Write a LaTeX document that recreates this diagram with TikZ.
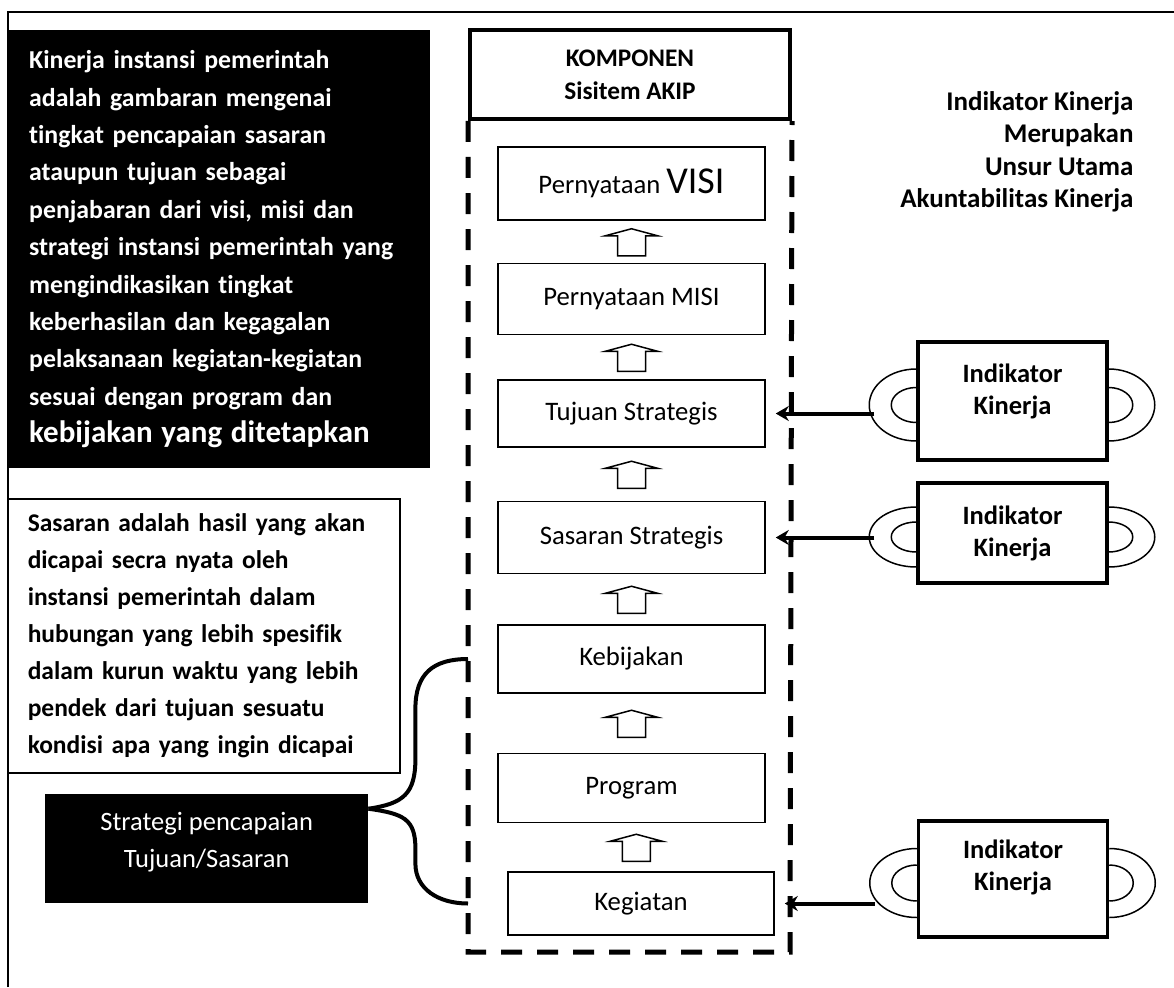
\documentclass[tikz,border=0pt]{standalone}
\usepackage{fontspec}
\setmainfont{Carlito}[Ligatures=NoCommon]
\usetikzlibrary{positioning,calc,arrows.meta}

% handles on both sides of an indikator box: #1 node, #2 outer radius, #3 inner radius
\newcommand{\ikhandles}[3]{%
  \draw[handle] ([yshift=#2pt-4pt]#1.west) arc[start angle=90, end angle=270, x radius=47pt, y radius=#2pt];
  \draw[handle] ([yshift=#3pt-4pt]#1.west) arc[start angle=90, end angle=270, x radius=25pt, y radius=#3pt];
  \draw[handle] ([yshift=#2pt-4pt]#1.east) arc[start angle=90, end angle=-90, x radius=46pt, y radius=#2pt];
  \draw[handle] ([yshift=#3pt-4pt]#1.east) arc[start angle=90, end angle=-90, x radius=24pt, y radius=#3pt];
}

\begin{document}
\begin{tikzpicture}[x=1pt, y=-1pt, node distance=42pt]
    \tikzstyle{blackbox} = [fill=black, text=white, inner ysep=0pt]
    \tikzstyle{note} = [draw, line width=1.5pt, inner ysep=0pt]
    \tikzstyle{stage} = [draw, line width=1.5pt, minimum width=267pt, font=\fontsize{26.7}{30}\selectfont]
    \tikzstyle{indik} = [draw, line width=3.5pt, minimum width=189pt, align=center, font=\bfseries\fontsize{26.5}{32}\selectfont]
    \tikzstyle{hollow} = [draw, line width=1.5pt, fill=white, line join=miter]
    \tikzstyle{feed} = [line width=4pt, -{Stealth[length=13pt, width=15pt]}]
    \tikzstyle{handle} = [line width=1.5pt]
    \tikzstyle{brace} = [line width=4pt]

    \useasboundingbox (0,0) rectangle (1174,987);
    \draw[line width=2pt] (8,987) |- (1174,12);

    % left column
    \node[blackbox, anchor=north west, minimum width=422pt, minimum height=438pt, text width=380pt, inner xsep=21pt, align=left,
          font=\bfseries\fontsize{25.8}{37.4}\selectfont] (kinerja) at (8,30)
        {Kinerja instansi pemerintah\\ adalah gambaran mengenai\\ tingkat pencapaian sasaran\\ ataupun tujuan sebagai\\
         penjabaran dari visi, misi dan\\ strategi instansi pemerintah yang\\ mengindikasikan tingkat\\
         keberhasilan dan kegagalan\\ pelaksanaan kegiatan-kegiatan\\ sesuai dengan program dan\\
         {\fontsize{31}{43}\selectfont kebijakan yang ditetapkan}};
    \node[note, anchor=north west, minimum width=392pt, minimum height=274pt, text width=352pt, inner xsep=20pt, align=left,
          font=\bfseries\fontsize{25.5}{37}\selectfont] (sasaranket) at (7,498)
        {Sasaran adalah hasil yang akan\\ dicapai secra nyata oleh\\ instansi pemerintah dalam\\ hubungan yang lebih spesifik\\
         dalam kurun waktu yang lebih\\ pendek dari tujuan sesuatu\\ kondisi apa yang ingin dicapai};
    \node[blackbox, anchor=north west, minimum width=323pt, minimum height=109pt, align=center,
          font=\fontsize{26.5}{37}\selectfont] (strategi) at (45,794) {Strategi pencapaian\\ Tujuan/Sasaran\\[-30pt]\strut};

    % komponen column
    \node[draw, line width=4pt, anchor=north west, minimum width=320pt, minimum height=89pt, align=center,
          font=\bfseries\fontsize{25.3}{33}\selectfont] (komponen) at (468,28) {KOMPONEN\\ Sisitem AKIP};
    \coordinate (frameSW) at (468,952);
    \coordinate (frameSE) at (790,952);
    \draw[line width=5pt, dash pattern=on 21pt off 15pt] (komponen.south west) -- (frameSW) -- (frameSE) -- (komponen.south east);

    \node[stage, minimum height=73pt] (visi) at (631.5,183.5) {Pernyataan {\fontsize{38}{38}\selectfont VISI}};
    \node[stage, minimum height=71pt] (misi) [below=42pt of visi] {Pernyataan MISI};
    \node[stage, minimum height=67pt] (tujuan) [below=44pt of misi] {Tujuan Strategis};
    \node[stage, minimum height=72pt] (sasaran) [below=53pt of tujuan] {Sasaran Strategis};
    \node[stage, minimum height=68pt] (kebijakan) [below=50pt of sasaran] {Kebijakan};
    \node[stage, minimum height=69pt] (program) [below=59pt of kebijakan] {Program};
    \node[stage, minimum height=63pt, minimum width=266pt] (kegiatan) [below=48pt of program, xshift=9.5pt] {Kegiatan};

    \foreach \hi/\lo in {visi/misi, misi/tujuan, tujuan/sasaran, sasaran/kebijakan, kebijakan/program, program/kegiatan} {
        \path ($(\hi.south)!0.5!(\lo.north)$) coordinate (m);
        \draw[hollow] (m) +(-14,14) -- +(-14,-6) -- +(-26,-6) -- +(0,-13) -- +(26,-6) -- +(14,-6) -- +(14,14) -- cycle;
    }

    % right column
    \node[anchor=east, align=right, font=\bfseries\fontsize{27}{32.5}\selectfont] (judul) at (1137,152)
        {Indikator Kinerja\\ Merupakan\\ Unsur Utama\\ Akuntabilitas Kinerja};

    \node[indik, minimum height=118pt] (ik1) at (1012.5,401) {Indikator\\ Kinerja\\[-17pt]\strut};
    \node[indik, minimum height=100pt] (ik2) at (1012.5,533) {Indikator\\ Kinerja};
    \node[indik, minimum height=116pt] (ik3) at (1013,879) {Indikator\\ Kinerja\\[-13pt]\strut};
    \ikhandles{ik1}{36}{17.5}
    \ikhandles{ik2}{30}{15}
    \ikhandles{ik3}{34.5}{18}

    \draw[feed, shorten <=42pt, shorten >=10pt] (ik1.west |- tujuan.east) -- (tujuan.east);
    \draw[feed, shorten <=42pt, shorten >=10pt] (ik2.west |- sasaran.east) -- (sasaran.east);
    \draw[feed, shorten <=42pt, shorten >=10pt] (ik3.west |- kegiatan.east) -- (kegiatan.east);

    % brace from strategi to the frame
    \coordinate (brtip) at ([yshift=40pt]strategi.east);
    \draw[brace] (brtip) .. controls +(35,-5) and +(0,35) .. ++(47,-50) -- ++(0,-50)
        .. controls +(0,-35) and +(-35,0) .. (kebijakan.west -| frameSW);
    \draw[brace] (brtip) .. controls +(35,5) and +(0,-30) .. ++(47,40) -- ++(0,15)
        .. controls +(0,25) and +(-30,0) .. (kegiatan.west -| frameSW);
\end{tikzpicture}
\end{document}
